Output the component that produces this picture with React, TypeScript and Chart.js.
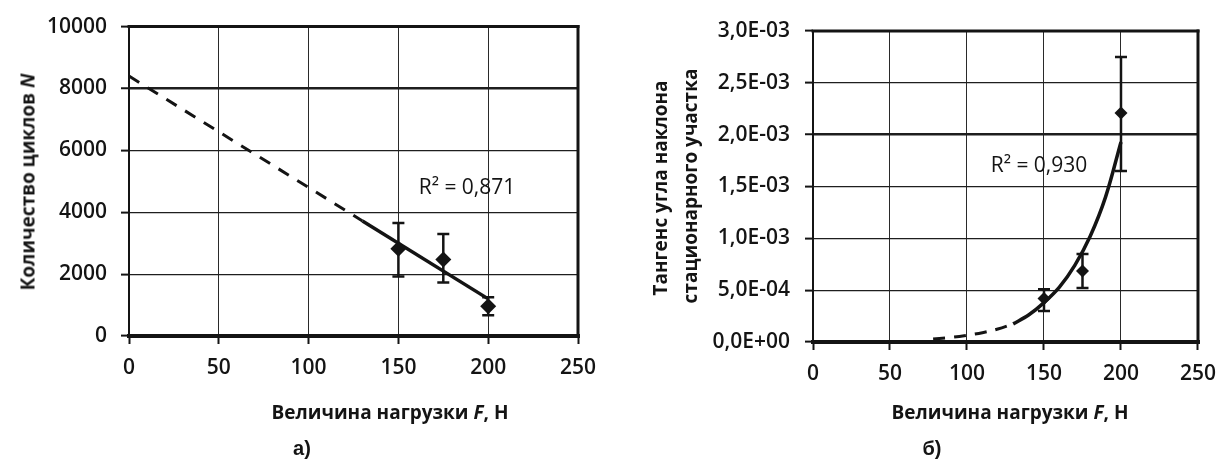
import React, { useEffect, useRef } from 'react';
import { Chart, registerables } from 'chart.js';

Chart.register(...registerables);

// ---------- data: chart а) ----------
const xTickLabels = ['0', '50', '100', '150', '200', '250'];
const loadA = [150, 175, 200];
const cyclesA = [2820, 2470, 960];
const cyclesErrLowA = [1920, 1730, 670];
const cyclesErrHighA = [3650, 3300, 1250];
const trendDashedXA = [0, 130];
const trendDashedYA = [8400, 3720];
const trendSolidXA = [130, 200];
const trendSolidYA = [3720, 1200];
const yTickLabelsA = ['0', '2000', '4000', '6000', '8000', '10000'];

// ---------- data: chart б) ----------
const loadB = [150, 175, 200];
const slopeB = [0.00042, 0.000685, 0.00221];
const slopeErrLowB = [0.0003, 0.00052, 0.00165];
const slopeErrHighB = [0.00051, 0.00085, 0.00275];
const trendDashedXB = [78, 90, 100, 110, 120, 130];
const trendDashedYB = [0.00003, 0.000045, 0.000065, 0.00009, 0.000125, 0.000175];
const trendSolidXB = [130, 140, 150, 160, 170, 180, 190, 200];
const trendSolidYB = [0.000175, 0.00026, 0.00038, 0.00053, 0.00074, 0.00102, 0.0014, 0.00193];
const yTickLabelsB = ['0,0E+00', '5,0E-04', '1,0E-03', '1,5E-03', '2,0E-03', '2,5E-03', '3,0E-03'];

const INK = '#141414';
const FONT = '"Open Sans", sans-serif';

const pts = (xs: number[], ys: number[]) => xs.map((x, i) => ({ x, y: ys[i] }));

function errorBars(xs: number[], lows: number[], highs: number[], cap: number, width: number) {
  return {
    id: 'errorBars',
    afterDatasetsDraw(chart: any) {
      const ctx = chart.ctx;
      const sx = chart.scales.x;
      const sy = chart.scales.y;
      ctx.save();
      ctx.strokeStyle = INK;
      ctx.lineWidth = width;
      xs.forEach((xv, i) => {
        const px = sx.getPixelForValue(xv);
        const yl = sy.getPixelForValue(lows[i]);
        const yh = sy.getPixelForValue(highs[i]);
        ctx.beginPath();
        ctx.moveTo(px, yl);
        ctx.lineTo(px, yh);
        ctx.moveTo(px - cap, yl);
        ctx.lineTo(px + cap, yl);
        ctx.moveTo(px - cap, yh);
        ctx.lineTo(px + cap, yh);
        ctx.stroke();
      });
      ctx.restore();
    },
  };
}

const framePlugin = {
  id: 'frame',
  afterDatasetsDraw(chart: any) {
    const { left, right, top, bottom } = chart.chartArea;
    const ctx = chart.ctx;
    ctx.save();
    ctx.strokeStyle = INK;
    ctx.lineCap = 'square';
    const seg = (x1: number, y1: number, x2: number, y2: number, w: number) => {
      ctx.lineWidth = w;
      ctx.beginPath();
      ctx.moveTo(x1, y1);
      ctx.lineTo(x2, y2);
      ctx.stroke();
    };
    seg(left, top, right, top, 3);
    seg(right, top, right, bottom, 3);
    seg(left, top, left, bottom, 2);
    seg(left, bottom, right, bottom, 4);
    ctx.restore();
  },
};

function makeConfig(opts: {
  dashed: { x: number; y: number }[];
  solid: { x: number; y: number }[];
  points: { x: number; y: number }[];
  yMax: number;
  yStep: number;
  yLabels: string[];
  padding: { left: number; top: number; right: number; bottom: number };
  yWidth: number;
  xHeight: number;
  yPad: number;
  pointRadius: number;
  thickIndex: number;
  dash: number[];
  tension: number;
  plugins: any[];
}) {
  const tickFont = { family: FONT, size: 21, weight: 600 as any };
  return {
    type: 'scatter' as const,
    data: {
      datasets: [
        {
          data: opts.dashed,
          showLine: true,
          borderColor: INK,
          borderWidth: 3,
          borderDash: opts.dash,
          pointRadius: 0,
          tension: opts.tension,
          order: 3,
        },
        {
          data: opts.solid,
          showLine: true,
          borderColor: INK,
          borderWidth: 3.5,
          pointRadius: 0,
          tension: opts.tension,
          order: 2,
        },
        {
          data: opts.points,
          showLine: false,
          pointStyle: 'rectRot',
          pointRadius: opts.pointRadius,
          backgroundColor: INK,
          borderColor: INK,
          borderWidth: 0,
          order: 1,
        },
      ],
    },
    options: {
      responsive: false,
      animation: false as const,
      events: [],
      layout: { padding: opts.padding },
      plugins: { legend: { display: false }, tooltip: { enabled: false } },
      scales: {
        x: {
          type: 'linear' as const,
          min: 0,
          max: 250,
          afterFit: (s: any) => {
            s.height = opts.xHeight;
          },
          ticks: {
            stepSize: 50,
            autoSkip: false,
            maxRotation: 0,
            font: tickFont,
            color: INK,
            padding: 11,
            callback: (_v: any, i: number) => xTickLabels[i],
          },
          grid: { color: '#2a2a2a', lineWidth: 1, tickLength: 8, tickColor: INK, tickWidth: 2 },
          border: { display: false },
        },
        y: {
          type: 'linear' as const,
          min: 0,
          max: opts.yMax,
          afterFit: (s: any) => {
            s.width = opts.yWidth;
          },
          ticks: {
            stepSize: opts.yStep,
            autoSkip: false,
            font: tickFont,
            color: INK,
            padding: opts.yPad,
            callback: (_v: any, i: number) => opts.yLabels[i],
          },
          grid: {
            color: '#1e1e1e',
            lineWidth: (c: any) => (c.index === opts.thickIndex ? 2.5 : 1.2),
            tickLength: 8,
            tickColor: INK,
            tickWidth: 2,
          },
          border: { display: false },
        },
      },
    },
    plugins: [...opts.plugins, framePlugin],
  };
}

const abs = (extra: React.CSSProperties): React.CSSProperties => ({
  position: 'absolute',
  fontFamily: FONT,
  color: INK,
  whiteSpace: 'nowrap',
  lineHeight: 1,
  ...extra,
});

export default function App() {
  const refA = useRef<HTMLCanvasElement>(null);
  const refB = useRef<HTMLCanvasElement>(null);

  useEffect(() => {
    const chartA = new Chart(
      refA.current as HTMLCanvasElement,
      makeConfig({
        dashed: pts(trendDashedXA, trendDashedYA),
        solid: pts(trendSolidXA, trendSolidYA),
        points: pts(loadA, cyclesA),
        yMax: 10000,
        yStep: 2000,
        yLabels: yTickLabelsA,
        padding: { left: 0, top: 24, right: 35, bottom: 0 },
        yWidth: 129,
        xHeight: 132,
        yPad: 14,
        pointRadius: 8,
        thickIndex: 4,
        dash: [12, 10],
        tension: 0,
        plugins: [errorBars(loadA, cyclesErrLowA, cyclesErrHighA, 6, 2.5)],
      }) as any
    );
    const chartB = new Chart(
      refB.current as HTMLCanvasElement,
      makeConfig({
        dashed: pts(trendDashedXB, trendDashedYB),
        solid: pts(trendSolidXB, trendSolidYB),
        points: pts(loadB, slopeB),
        yMax: 0.003,
        yStep: 0.0005,
        yLabels: yTickLabelsB,
        padding: { left: 0, top: 31, right: 19, bottom: 0 },
        yWidth: 200,
        xHeight: 126,
        yPad: 15,
        pointRadius: 6.5,
        thickIndex: 4,
        dash: [12, 9],
        tension: 0.35,
        plugins: [errorBars(loadB, slopeErrLowB, slopeErrHighB, 6, 2.5)],
      }) as any
    );
    return () => {
      chartA.destroy();
      chartB.destroy();
    };
  }, []);

  return (
    <div style={{ position: 'fixed', left: 0, top: 0, width: 1227, height: 468, background: '#fff', overflow: 'hidden' }}>
      <canvas ref={refA} width={613} height={468} style={{ position: 'absolute', left: 0, top: 0, width: 613, height: 468 }} />
      <canvas ref={refB} width={614} height={468} style={{ position: 'absolute', left: 613, top: 0, width: 614, height: 468 }} />

      {/* y-axis titles */}
      <div style={abs({ left: 28, top: 182, fontSize: 19, fontWeight: 700, transform: 'translate(-50%,-50%) rotate(-90deg)' })}>
        Количество циклов <i>N</i>
      </div>
      <div style={abs({ left: 660, top: 188, fontSize: 19, fontWeight: 700, transform: 'translate(-50%,-50%) rotate(-90deg)' })}>
        Тангенс угла наклона
      </div>
      <div style={abs({ left: 690, top: 186, fontSize: 19, fontWeight: 700, transform: 'translate(-50%,-50%) rotate(-90deg)' })}>
        стационарного участка
      </div>

      {/* x-axis titles */}
      <div style={abs({ left: 390, top: 412, fontSize: 19, fontWeight: 700, transform: 'translate(-50%,-50%)' })}>
        Величина нагрузки <i>F</i>, Н
      </div>
      <div style={abs({ left: 1010, top: 412, fontSize: 19, fontWeight: 700, transform: 'translate(-50%,-50%)' })}>
        Величина нагрузки <i>F</i>, Н
      </div>

      {/* R² annotations */}
      <div style={abs({ left: 467, top: 186, fontSize: 21, transform: 'translate(-50%,-50%)' })}>R² = 0,871</div>
      <div style={abs({ left: 1039, top: 164, fontSize: 21, transform: 'translate(-50%,-50%)' })}>R² = 0,930</div>

      {/* panel letters */}
      <div style={abs({ left: 302, top: 448, fontSize: 20, fontWeight: 700, fontFamily: '"Liberation Sans", Arial, sans-serif', transform: 'translate(-50%,-50%)' })}>а)</div>
      <div style={abs({ left: 932, top: 448, fontSize: 20, fontWeight: 700, fontFamily: '"Liberation Sans", Arial, sans-serif', transform: 'translate(-50%,-50%)' })}>б)</div>
    </div>
  );
}
